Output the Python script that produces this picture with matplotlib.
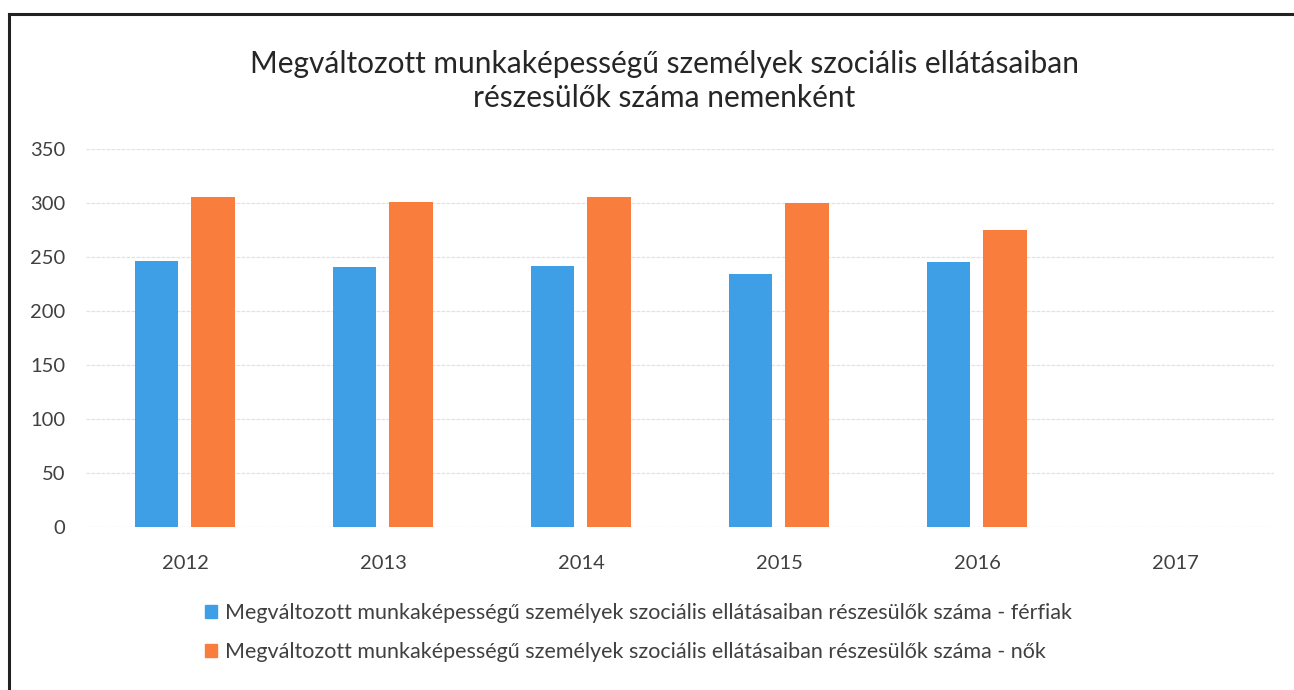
import matplotlib
matplotlib.use("Agg")
import matplotlib.pyplot as plt
from matplotlib.patches import Patch
from matplotlib.lines import Line2D
import numpy as np

plt.rcParams['font.family'] = ['Lato', 'DejaVu Sans']

years = ["2012", "2013", "2014", "2015", "2016", "2017"]
ferfiak = [246, 241, 242, 234, 245, None]
nok = [306, 301, 306, 300, 275, None]

title = "Megváltozott munkaképességű személyek szociális ellátásaiban\nrészesülők száma nemenként"
label_f = "Megváltozott munkaképességű személyek szociális ellátásaiban részesülők száma - férfiak"
label_n = "Megváltozott munkaképességű személyek szociális ellátásaiban részesülők száma - nők"

blue = "#3e9fe6"
orange = "#f97e3e"
txt = "#404040"

fig = plt.figure(figsize=(12.94, 6.90), dpi=100)
ax = fig.add_axes([86 / 1294, 163 / 690, 1188 / 1294, 378 / 690])

x = np.arange(len(years))
w = 0.22
for i in range(len(years)):
    if ferfiak[i] is not None:
        ax.bar(x[i] - 0.144, ferfiak[i], w, color=blue, zorder=3)
    if nok[i] is not None:
        ax.bar(x[i] + 0.142, nok[i], w, color=orange, zorder=3)

ax.set_xlim(-0.5, len(years) - 0.5)
ax.set_ylim(0, 350)
ax.set_yticks(range(0, 351, 50))
ax.set_xticks(x)
ax.set_xticklabels(years)
ax.grid(axis='y', color='#e2e2e2', lw=0.9, ls=(0, (3, 1)), zorder=0)
for s in ax.spines.values():
    s.set_visible(False)
ax.tick_params(length=0, labelsize=14.5, colors=txt)
ax.tick_params(axis='y', pad=15)
ax.tick_params(axis='x', pad=20)

fig.text(664 / 1294, 1 - 81 / 690, title, ha='center', va='center',
         fontsize=21.5, color='#262626', linespacing=1.3)

handles = [Patch(color=blue), Patch(color=orange)]
fig.legend(handles, [label_f, label_n], loc='upper left',
           bbox_to_anchor=(186 / 1294, 1 - 584 / 690), frameon=False,
           fontsize=15.5, labelcolor=txt, handlelength=0.55, handleheight=0.55,
           handletextpad=0.35, labelspacing=0.85)

# keret (felső és bal oldali vonal)
fig.add_artist(Line2D([9 / 1294, 1], [1 - 14 / 690, 1 - 14 / 690], color='#222222', lw=2.2))
fig.add_artist(Line2D([9 / 1294, 9 / 1294], [0, 1 - 14 / 690], color='#222222', lw=2.2))

fig.savefig("out.png", dpi=100)
